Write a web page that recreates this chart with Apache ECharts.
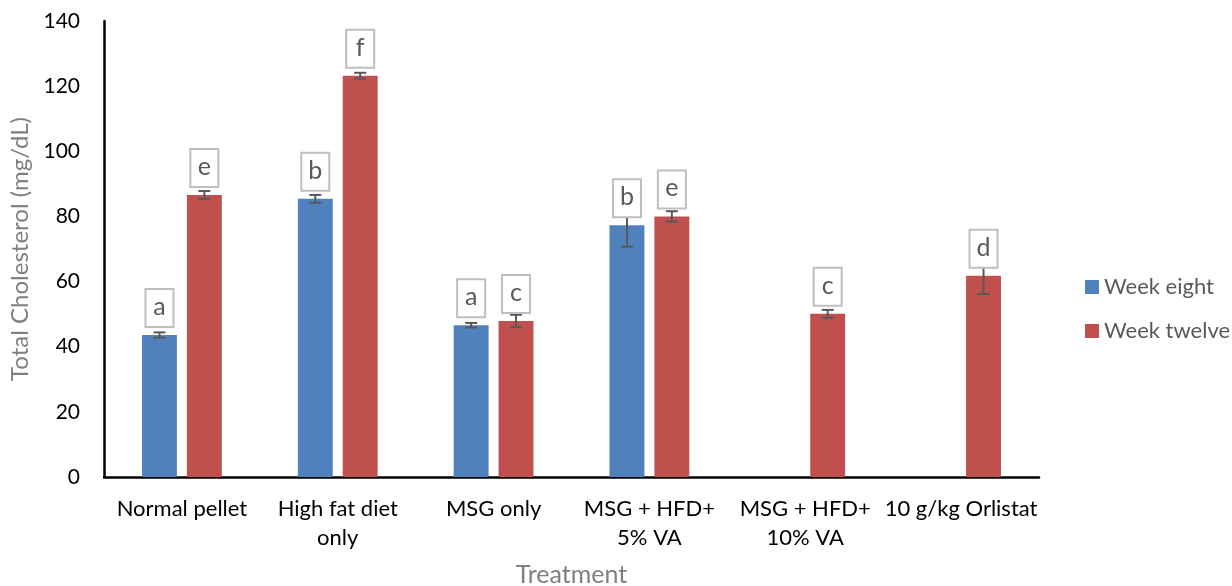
<!DOCTYPE html>
<html>
<head>
<meta charset="utf-8">
<script src="https://cdn.jsdelivr.net/npm/echarts@6/dist/echarts.min.js"></script>
<style>html,body{margin:0;padding:0;background:#fff}#c{width:1232px;height:586px}</style>
</head>
<body>
<div id="c"></div>
<script>
const categories = ['Normal pellet', 'High fat diet\nonly', 'MSG only', 'MSG + HFD+\n5% VA', 'MSG + HFD+\n10% VA', '10 g/kg Orlistat'];
const weekEight = [43.6, 85.4, 46.6, 77.3, null, null];
const weekEightErr = [0.8, 1.2, 0.7, 6.6, null, null];
const weekEightLetters = ['a', 'b', 'a', 'b', null, null];
const weekTwelve = [86.6, 123.2, 47.9, 80.0, 50.1, 61.8];
const weekTwelveErr = [1.2, 0.9, 1.9, 1.6, 1.2, 5.6];
const weekTwelveLetters = ['e', 'f', 'c', 'e', 'c', 'd'];
const yTicks = [0, 20, 40, 60, 80, 100, 120, 140];

const FONT = 'Lato';
const BW = 0.224;          // bar width as fraction of band
const GAP = 10 / 35;       // gap as fraction of bar width

function makeCustom(values, errs, letters, seriesIndex) {
  const data = [];
  const lettersFor = [];
  values.forEach((v, i) => { if (v != null) { data.push([i, v, errs[i]]); lettersFor.push(letters[i]); } });
  return {
    type: 'custom',
    z: 5,
    silent: true,
    data: data,
    renderItem: function (params, api) {
      const idx = api.value(0), v = api.value(1), e = api.value(2);
      const band = api.size([1, 0])[0];
      const bw = band * BW;
      const off = (seriesIndex === 0 ? -1 : 1) * (bw + bw * GAP) / 2;
      const x = api.coord([idx, v])[0] + off;
      const yBar = api.coord([idx, v])[1];
      const yTop = api.coord([idx, v + e])[1];
      const yBot = api.coord([idx, v - e])[1];
      const cap = 6;
      const ls = { stroke: '#595959', lineWidth: 2 };
      const bh = 38, bwid = 28, dist = 8;
      const letter = lettersFor[params.dataIndex];
      return {
        type: 'group',
        children: [
          { type: 'line', shape: { x1: x, y1: yTop, x2: x, y2: yBot }, style: ls },
          { type: 'line', shape: { x1: x - cap, y1: yTop, x2: x + cap, y2: yTop }, style: ls },
          { type: 'line', shape: { x1: x - cap, y1: yBot, x2: x + cap, y2: yBot }, style: ls },
          { type: 'rect', shape: { x: x - bwid / 2, y: yBar - dist - bh, width: bwid, height: bh },
            style: { fill: '#fff', stroke: '#bfbfbf', lineWidth: 2 } },
          { type: 'text', x: x, y: yBar - dist - bh / 2 - 1,
            style: { text: letter, fill: '#595959', font: '25px ' + FONT, align: 'center', verticalAlign: 'middle' } }
        ]
      };
    }
  };
}

const chart = echarts.init(document.getElementById('c'), null, { renderer: 'canvas' });
chart.setOption({
  animation: false,
  backgroundColor: '#fff',
  textStyle: { fontFamily: FONT },
  grid: { left: 104, right: 193, top: 21, bottom: 109, containLabel: false, outerBoundsMode: 'none' },
  legend: {
    data: ['Week eight', 'Week twelve'],
    orient: 'vertical',
    left: 1080,
    top: 271,
    icon: 'rect',
    itemWidth: 14,
    itemHeight: 14,
    itemGap: 22,
    textStyle: { fontFamily: FONT, fontSize: 22, color: '#595959', lineHeight: 22 }
  },
  xAxis: {
    type: 'category',
    data: categories,
    name: 'Treatment',
    nameLocation: 'middle',
    nameGap: 85,
    nameTextStyle: { fontFamily: FONT, fontSize: 25, color: '#7f7f7f' },
    axisLine: { lineStyle: { color: '#000', width: 2.5 } },
    axisTick: { show: false },
    axisLabel: { interval: 0, fontFamily: FONT, fontSize: 22, color: '#000', lineHeight: 29, margin: 17 }
  },
  yAxis: {
    type: 'value',
    min: yTicks[0],
    max: yTicks[yTicks.length - 1],
    interval: 20,
    name: 'Total Cholesterol (mg/dL)',
    nameLocation: 'middle',
    nameGap: 72,
    nameTextStyle: { fontFamily: FONT, fontSize: 24, color: '#7f7f7f' },
    axisLine: { show: true, lineStyle: { color: '#000', width: 2.5 } },
    axisTick: { show: false },
    splitLine: { show: false },
    axisLabel: { fontFamily: FONT, fontSize: 21, color: '#000', margin: 24 }
  },
  series: [
    { name: 'Week eight', type: 'bar', data: weekEight, barWidth: (BW * 100) + '%', barGap: (GAP * 100) + '%',
      itemStyle: { color: '#4f81bd' }, z: 2 },
    { name: 'Week twelve', type: 'bar', data: weekTwelve, barWidth: (BW * 100) + '%', barGap: (GAP * 100) + '%',
      itemStyle: { color: '#c0504d' }, z: 2 },
    makeCustom(weekEight, weekEightErr, weekEightLetters, 0),
    makeCustom(weekTwelve, weekTwelveErr, weekTwelveLetters, 1)
  ]
});
</script>
</body>
</html>
